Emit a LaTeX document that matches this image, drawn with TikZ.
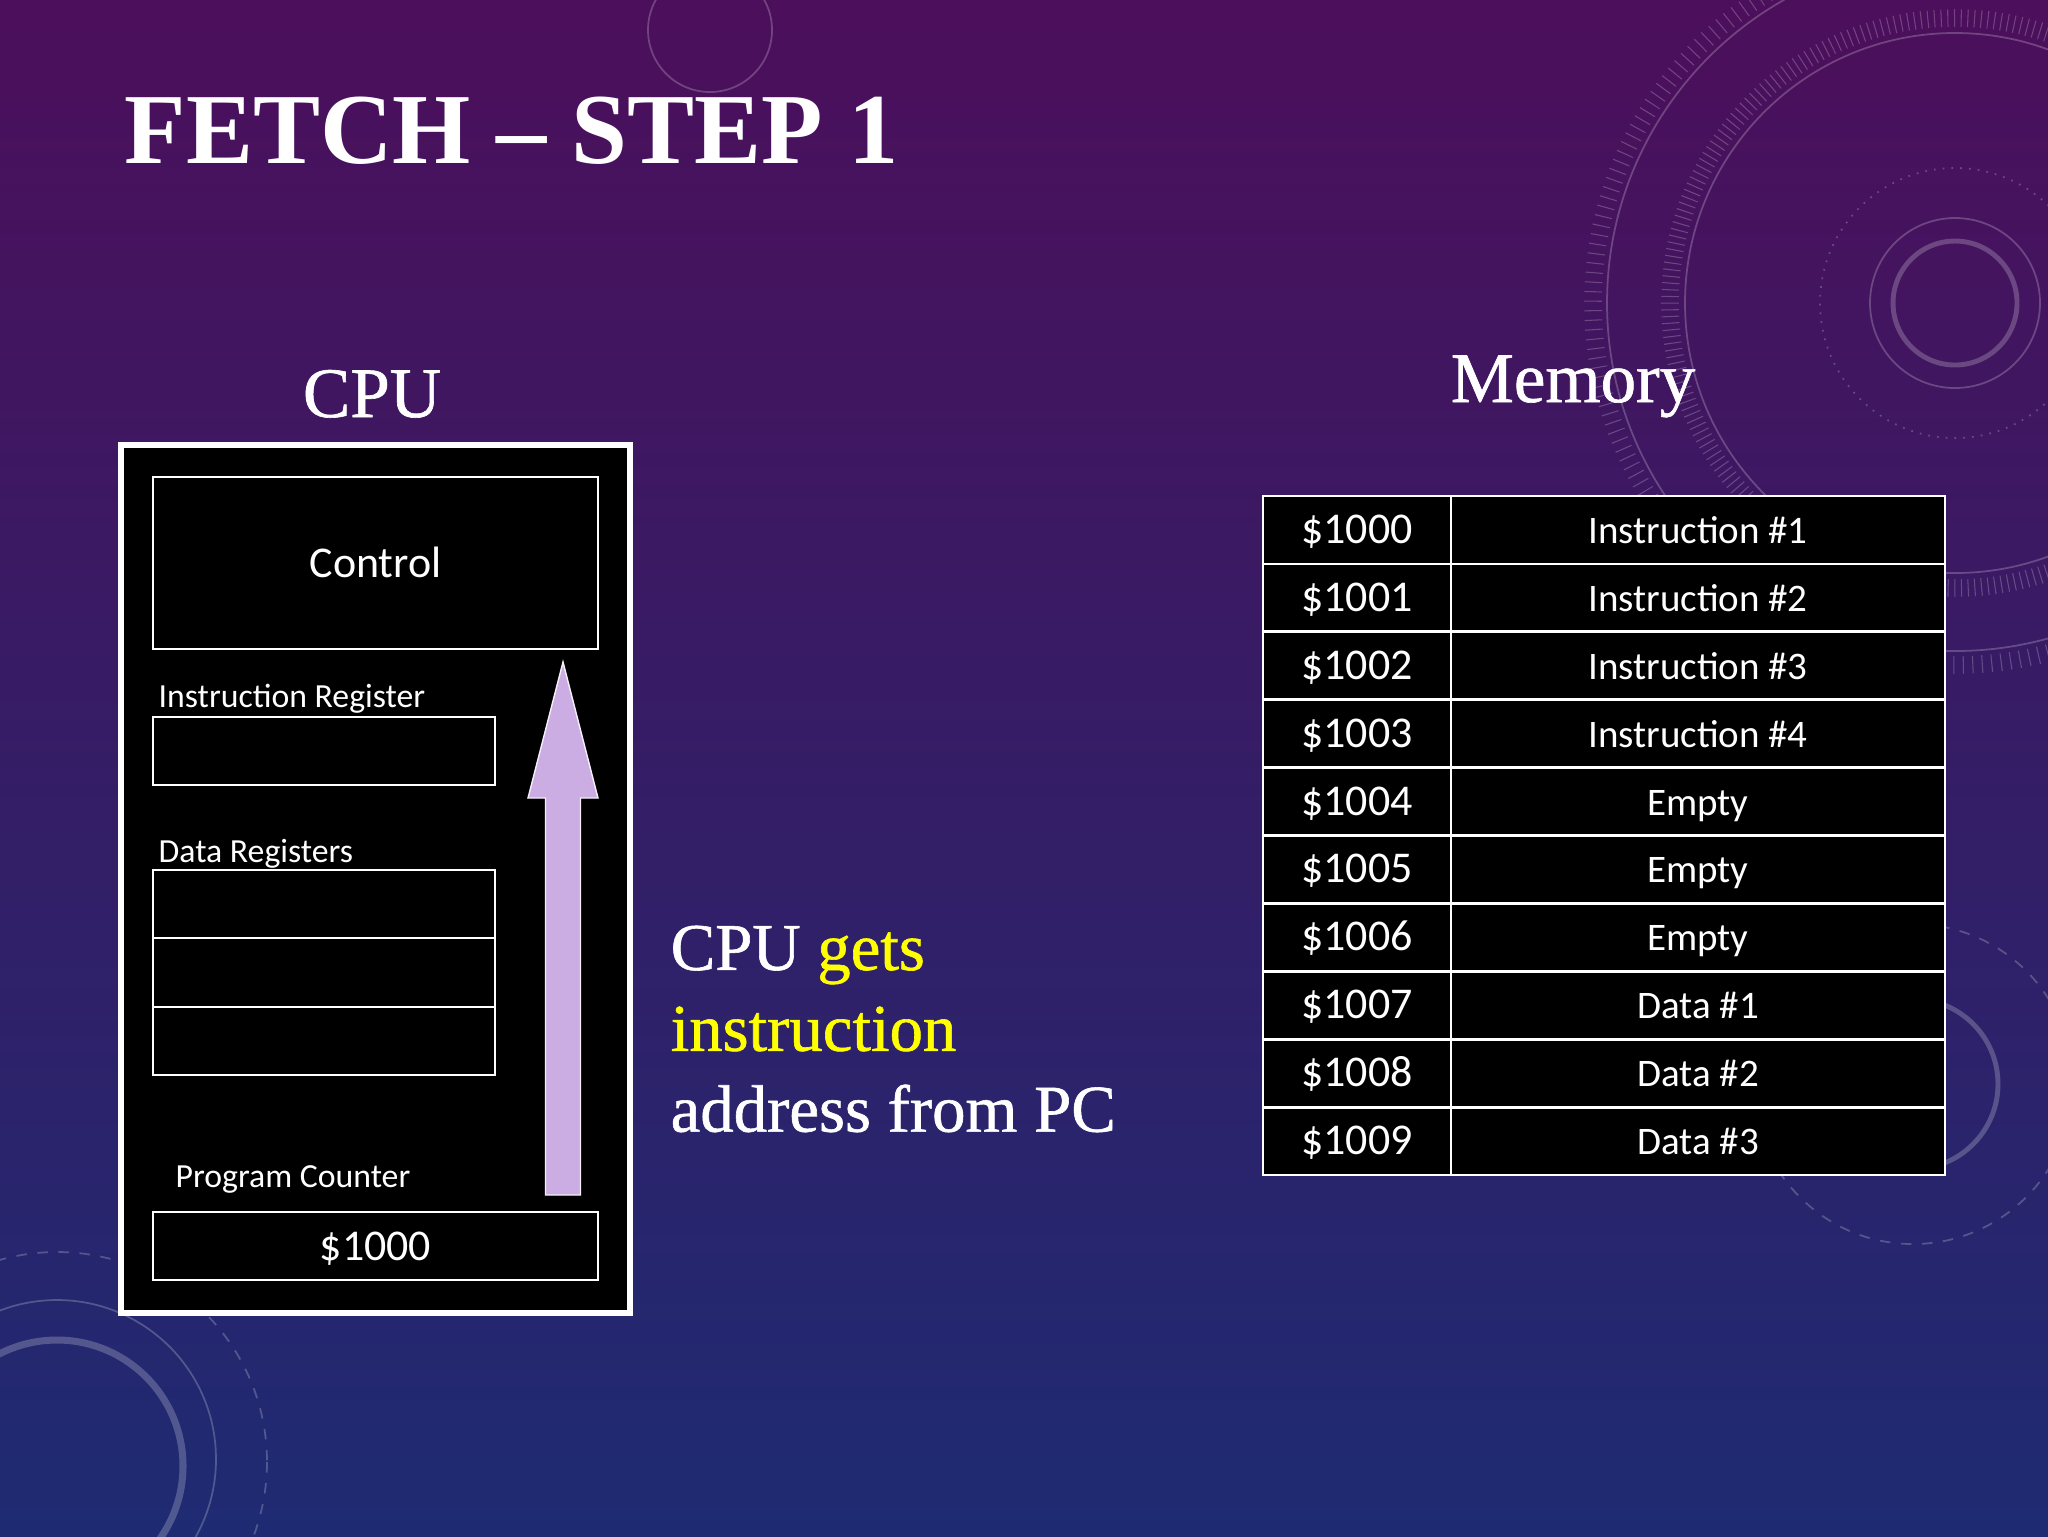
\documentclass[tikz,border=0pt]{standalone}
\usepackage{fontspec}
\setmainfont{Liberation Serif}
\newfontfamily\calibri{Carlito}
\newfontfamily\goudy[FakeBold=0.9]{Liberation Serif}
\usetikzlibrary{positioning,calc}
\definecolor{bgtop}{HTML}{4C0F5B}
\definecolor{bgmid}{HTML}{32216F}
\definecolor{bgbot}{HTML}{1E2B72}
\definecolor{lavender}{HTML}{CBADE3}
\definecolor{hiyellow}{HTML}{FFFF00}

\begin{document}
\begin{tikzpicture}[
  x=0.1mm, y=-0.1mm,
  heading/.style={text=white, inner sep=0pt, font=\goudy\fontsize{20.2}{24}\selectfont},
  cpubox/.style={draw=white, line width=1.7pt, fill=black, inner sep=0pt,
                 minimum width=50.9mm, minimum height=86.8mm},
  regbox/.style={draw=white, line width=0.6pt, fill=black, inner sep=0pt, outer sep=0pt,
                 text=white, text height=2.9mm, text depth=0pt,
                 font=\calibri\fontsize{12.5}{15}\selectfont},
  reglbl/.style={text=white, inner sep=0pt, anchor=base west,
                 font=\calibri\fontsize{9.6}{11}\selectfont},
  addrcell/.style={draw=white, line width=0.8pt, fill=black, inner sep=0pt, outer sep=0pt,
                   text=white, text height=2.7mm, text depth=0pt,
                   minimum width=18.8mm, minimum height=6.79mm,
                   font=\calibri\fontsize{12.5}{15}\selectfont},
  datacell/.style={addrcell, minimum width=49.4mm, font=\calibri\fontsize{11.1}{13}\selectfont},
  deco/.style={draw=white, opacity=0.22, line width=0.5pt},
  fetcharr/.style={fill=lavender, draw=white!80!lavender, line width=0.4pt}
]
\useasboundingbox (0,0) rectangle (2048,1536);
\shade[top color=bgtop, middle color=bgmid, bottom color=bgbot] (0,0) rectangle (2048,1536);

% background dials
\draw[deco, line width=1.4pt] (1955,303) circle[radius=62];
\draw[deco] (1955,303) circle[radius=85];
\draw[deco, dotted] (1955,303) circle[radius=135];
\draw[deco] (1955,303) circle[radius=270];
\draw[deco, line width=5pt, dash pattern=on 0.3pt off 1.6pt] (1955,303) circle[radius=285];
\draw[deco] (1955,303) circle[radius=348];
\draw[deco, line width=5pt, dash pattern=on 0.3pt off 2.4pt] (1955,303) circle[radius=362];
\draw[deco, line width=1.4pt] (1913,1084) circle[radius=85];
\draw[deco, dashed] (1913,1084) circle[radius=160];
\draw[deco] (710,30) circle[radius=62];
\draw[deco, line width=2pt] (57,1466) circle[radius=126];
\draw[deco] (57,1459) circle[radius=159];
\draw[deco, dashed] (57,1462) circle[radius=210];

\node[anchor=base west, text=white, inner sep=0pt,
      font=\bfseries\fontsize{28.6}{32}\selectfont] (title) at (124,163) {FETCH -- STEP 1};

% CPU side
\node[heading, anchor=base] (cpulbl) at (372,417) {CPU};
\node[cpubox] (cpu) at (375.5,879) {};
\node[regbox, minimum width=44.5mm, minimum height=17.2mm] (control) at (375.5,563) {Control};
\node[reglbl] (irlbl) at (158,707) {Instruction Register};
\node[regbox, minimum width=34.2mm, minimum height=6.8mm] (ir) at (324,751) {};
\node[reglbl] (drlbl) at (158,862) {Data Registers};
\node[regbox, minimum width=34.2mm, minimum height=6.85mm] (dreg1) at (324,904) {};
\node[regbox, minimum width=34.2mm, minimum height=6.85mm, below=0pt of dreg1] (dreg2) {};
\node[regbox, minimum width=34.2mm, minimum height=6.85mm, below=0pt of dreg2] (dreg3) {};
\node[reglbl] (pclbl) at (175,1187) {Program Counter};
\node[regbox, minimum width=44.5mm, minimum height=6.8mm] (pc) at (375.5,1246) {\$1000};

\coordinate (fetchtail) at (563,1195);
\coordinate (fetchtip) at (563,662);
\draw[fetcharr] ($(fetchtail)+(-17.5,0)$) -- ($(fetchtip)+(-17.5,136)$) -- ($(fetchtip)+(-35,136)$)
  -- (fetchtip) -- ($(fetchtip)+(35,136)$) -- ($(fetchtip)+(17.5,136)$) -- ($(fetchtail)+(17.5,0)$) -- cycle;

\node[anchor=north west, align=left, text=white, inner sep=0pt,
      font=\goudy\fontsize{19}{23}\selectfont] (note) at (670,925)
  {CPU \textcolor{hiyellow}{gets}\\ \textcolor{hiyellow}{instruction}\\ address from PC};

% memory side
\node[heading, anchor=base] (memlbl) at (1573,402) {Memory};
\foreach \addr/\what [count=\i] in {1000/Instruction \#1, 1001/Instruction \#2,
    1002/Instruction \#3, 1003/Instruction \#4, 1004/Empty, 1005/Empty, 1006/Empty,
    1007/Data \#1, 1008/Data \#2, 1009/Data \#3} {
  \node[addrcell, anchor=north west] (addr\i) at (1263,{496+(\i-1)*67.9}) {\$\addr};
  \node[datacell, right=0pt of addr\i] (cont\i) {\what};
}
\end{tikzpicture}
\end{document}
